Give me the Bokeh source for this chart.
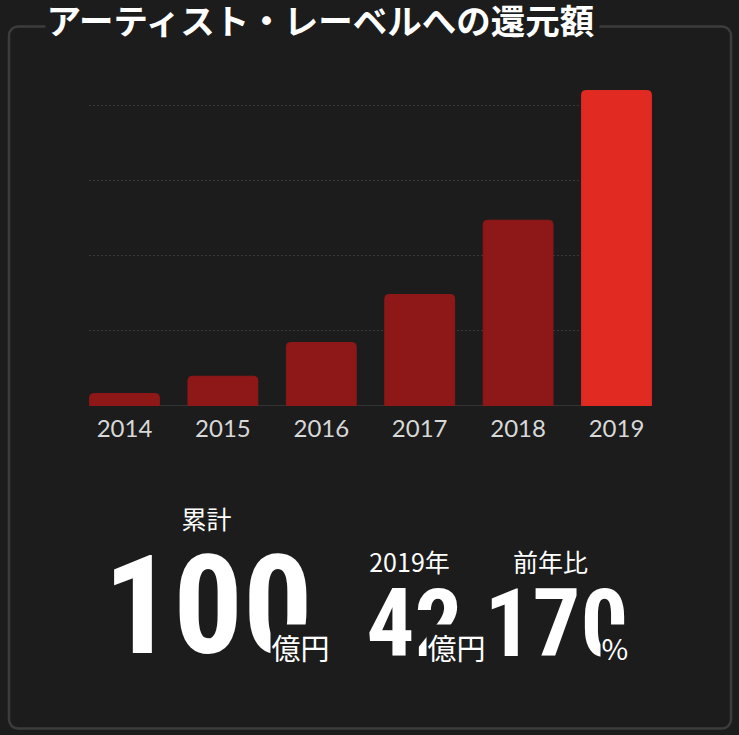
#===========================
#       Bokeh-Related Imports
from bokeh.core.properties import value
from bokeh.embed import file_html
from bokeh.models import ColumnDataSource, Range1d
from bokeh.plotting import figure
from bokeh.resources import INLINE

#-- chart data (億円 paid back to artists / labels)
title_text = "アーティスト・レーベルへの還元額"
years = ["2014", "2015", "2016", "2017", "2018", "2019"]
payouts = [1.6, 3.9, 8.4, 14.8, 24.7, 42.0]
grid_values = [10, 20, 30, 40]
highlight_year = "2019"

#-- summary figures under the bars
stat_labels = ["累計", "2019年", "前年比"]
stat_values = ["100", "42", "170"]
stat_units = ["億円", "億円", "%"]

BG = "#1c1c1c"
W, H = 739, 735

#-- layout of the page (px from top-left of the canvas)
x0_px, step_px = 124, 98.4     # centre of first bar, spacing of bars
base_px, unit_px = 405, 7.5    # baseline of bars, px per 億円

label_x = [206, 409, 550]
label_y = [517, 560, 560]
value_x = [103, 366, 484]
value_y = [603, 621, 621]
value_size = ["138px", "95px", "95px"]
unit_x = [270, 426, 600]

p = figure(
    width=W, height=H,
    x_range=Range1d(0, W), y_range=Range1d(H, 0),
    x_axis_location=None, y_axis_location=None,
    output_backend="svg", toolbar_location=None,
    min_border=0, outline_line_color=None,
    background_fill_color=BG, border_fill_color=BG,
)
p.grid.visible = False

#-- ranges used by the bar chart itself
p.extra_x_ranges = {"bars": Range1d(-x0_px / step_px, (W - x0_px) / step_px)}
p.extra_y_ranges = {"amount": Range1d(-(H - base_px) / unit_px, base_px / unit_px)}

#-- outer rounded frame
p.quad(left=8.5, right=730.5, top=26, bottom=728, fill_color=None,
       line_color="#3c3c3c", line_width=2.5, border_radius=9)

#-- dotted grid + baseline
idx = list(range(len(years)))
half_w = 0.36
p.segment(x0=idx[0] - half_w, x1=idx[-1] + half_w, y0=grid_values, y1=grid_values,
          line_color="#3a3a3a", line_width=1, line_dash="2 2",
          x_range_name="bars", y_range_name="amount")
p.segment(x0=idx[0] - half_w, x1=idx[-1] + half_w, y0=0, y1=0,
          line_color="#343434", line_width=1,
          x_range_name="bars", y_range_name="amount")

#-- bars
bar_colors = ["#e02a22" if y == highlight_year else "#8e1718" for y in years]
source = ColumnDataSource(data=dict(x=idx, top=payouts, year=years, color=bar_colors))
p.vbar(x="x", top="top", bottom=0, width=0.71, color="color", source=source,
       border_radius=(4, 4, 0, 0), x_range_name="bars", y_range_name="amount")

#-- year labels under bars
p.text(x="x", y=428, text="year", source=source, x_range_name="bars",
       text_align="center", text_baseline="middle", text_color="#d8d8d8",
       text_font=value("Lato"), text_font_size="24px")

#-- title sitting on the frame
p.text(x=[45], y=[18.5], text=[title_text], text_color="white",
       text_font=value("Noto Sans CJK JP"), text_font_style="bold",
       text_font_size="34.5px", text_baseline="middle",
       background_fill_color=BG, padding=dict(left=1, right=3, top=0, bottom=0))

#-- summary numbers
p.text(x=label_x, y=label_y, text=stat_labels, text_color="white",
       text_font=value("Noto Sans CJK JP"), text_font_size="25px",
       text_align="center", text_baseline="middle")
p.text(x=value_x, y=value_y, text=stat_values, text_color="white",
       text_font=value("Roboto Condensed"), text_font_style="bold",
       text_font_size=value_size, text_baseline="middle")
p.text(x=unit_x, y=[646] * 3, text=stat_units, text_color="white",
       text_font=value("Noto Sans CJK JP"), text_font_size="29px",
       text_baseline="middle", background_fill_color=BG, padding=1)

html = file_html(p, INLINE, title="還元額")
html = html.replace("</head>", "<style>body{background:%s;}</style></head>" % BG)
open("out.html", "w").write(html)
